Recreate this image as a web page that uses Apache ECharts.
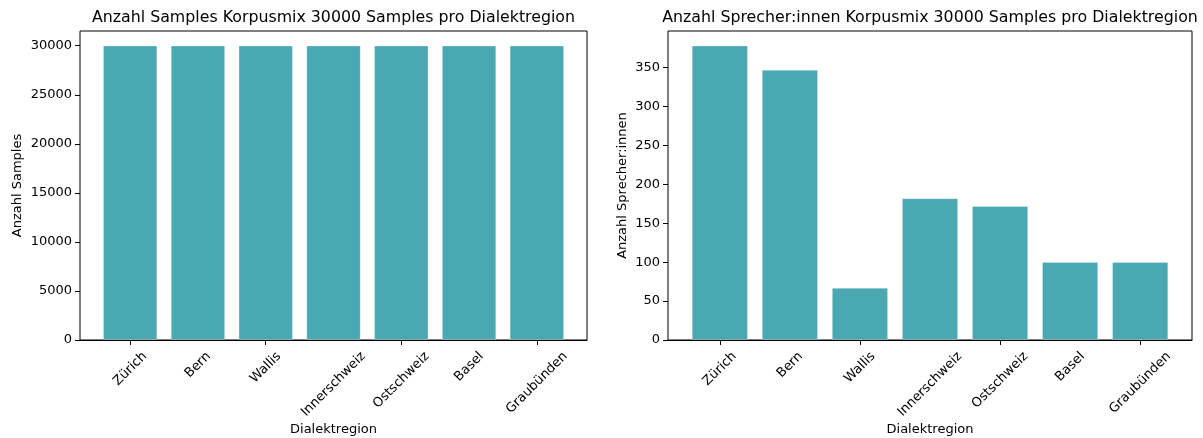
<!DOCTYPE html>
<html><head><meta charset="utf-8">
<script src="https://cdn.jsdelivr.net/npm/echarts@6/dist/echarts.min.js"></script>
<style>html,body{margin:0;padding:0;background:#fff}#c{width:1203px;height:438px}</style>
</head><body><div id="c"></div>
<script>
// ---- data ----
const categories = ['Zürich', 'Bern', 'Wallis', 'Innerschweiz', 'Ostschweiz', 'Basel', 'Graubünden'];
const sampleValues = [30000, 30000, 30000, 30000, 30000, 30000, 30000];
const speakerValues = [378, 347, 67, 182, 172, 100, 100];
const sampleTicks = [0, 5000, 10000, 15000, 20000, 25000, 30000];
const speakerTicks = [0, 50, 100, 150, 200, 250, 300, 350];
const titles = ['Anzahl Samples Korpusmix 30000 Samples pro Dialektregion',
                'Anzahl Sprecher:innen Korpusmix 30000 Samples pro Dialektregion'];
const yNames = ['Anzahl Samples', 'Anzahl Sprecher:innen'];
const xName = 'Dialektregion';

// ---- style / layout ----
const FONT = 'DejaVu Sans';
const TXT = '#000';
const BAR = '#4aa8b3';
const TOP = 31, BOTTOM = 340;
const panels = [
  {left: 80, right: 587, values: sampleValues, ticks: sampleTicks, title: titles[0], yName: yNames[0], nameGap: 56},
  {left: 668, right: 1192, values: speakerValues, ticks: speakerTicks, title: titles[1], yName: yNames[1], nameGap: 39}
];

const chart = echarts.init(document.getElementById('c'), null, {renderer: 'canvas'});
const grid = [], xAxis = [], yAxis = [], series = [], title = [];
panels.forEach((p, k) => {
  const w = p.right - p.left;
  const inset = w * 0.24 / 7.48;
  const ymax = Math.max(...p.values) * 1.05;
  const gf = k * 2, gd = k * 2 + 1;
  grid.push({left: p.left, top: TOP, width: w, height: BOTTOM - TOP, show: true,
    borderColor: '#000', borderWidth: 1, backgroundColor: 'transparent', containLabel: false});
  grid.push({left: p.left + inset, top: TOP, width: w - 2 * inset, height: BOTTOM - TOP, containLabel: false});
  xAxis.push({gridIndex: gf, type: 'value', min: 0, max: 1, show: true, z: 5,
    axisLine: {show: true, onZero: false, lineStyle: {color: '#000', width: 1}},
    axisTick: {show: false}, axisLabel: {show: false}, splitLine: {show: false}});
  xAxis.push({gridIndex: gd, type: 'category', data: categories, boundaryGap: true,
    axisLine: {show: false}, axisTick: {show: true, alignWithLabel: true, length: 5, lineStyle: {color: '#000', width: 1}},
    axisLabel: {show: false}, splitLine: {show: false}});
  yAxis.push({gridIndex: gf, type: 'value', min: 0, max: ymax,
    name: p.yName, nameLocation: 'middle', nameGap: p.nameGap,
    nameTextStyle: {fontFamily: FONT, fontSize: 13, color: TXT},
    axisLine: {show: false}, splitLine: {show: false},
    axisTick: {show: true, length: 5, customValues: p.ticks, lineStyle: {color: '#000', width: 1}},
    axisLabel: {show: true, customValues: p.ticks, margin: 8, fontFamily: FONT, fontSize: 13, color: TXT,
      formatter: (v) => String(Math.round(v))}});
  yAxis.push({gridIndex: gd, type: 'value', min: 0, max: ymax, show: false});
  series.push({type: 'bar', xAxisIndex: gd, yAxisIndex: gd, data: p.values, barCategoryGap: '20%',
    itemStyle: {color: BAR, borderColor: 'rgba(255,255,255,0.35)', borderWidth: 0.8}, silent: true});
  title.push({text: p.title, left: (p.left + p.right) / 2, top: 10, padding: 0, textAlign: 'center',
    textStyle: {fontFamily: FONT, fontSize: 15.8, fontWeight: 'normal', color: TXT}});
});

chart.setOption({animation: false, backgroundColor: '#fff', title, grid, xAxis, yAxis, series});

// rotated category labels (matplotlib style: rotated bbox centred on tick)
const ctx = document.createElement('canvas').getContext('2d');
const FS = 13;
ctx.font = FS + 'px "' + FONT + '"';
const graphics = [];
panels.forEach((p, k) => {
  const gd = k * 2 + 1;
  categories.forEach((c) => {
    const x = chart.convertToPixel({xAxisIndex: gd}, c);
    const tw = ctx.measureText(c).width;
    const th = 15;
    const bh = (tw + th) / Math.SQRT2;
    const y0 = BOTTOM + 5 + 4;
    graphics.push({type: 'text', x: x, y: y0 + bh / 2, rotation: Math.PI / 4, silent: true,
      style: {text: c, font: FS + 'px "' + FONT + '"', fill: TXT, align: 'center', verticalAlign: 'middle'}});
  });
  graphics.push({type: 'text', x: (p.left + p.right) / 2, y: 430, silent: true,
    style: {text: xName, font: FS + 'px "' + FONT + '"', fill: TXT, align: 'center', verticalAlign: 'middle'}});
});
chart.setOption({graphic: graphics});
</script>
</body></html>
